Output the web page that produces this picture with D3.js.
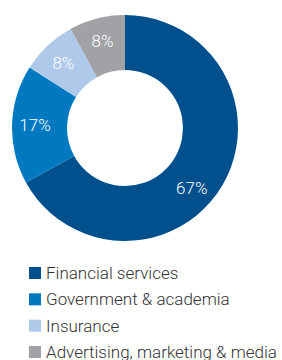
<!DOCTYPE html>
<html>
<head>
<meta charset="utf-8">
<script src="https://cdn.jsdelivr.net/npm/d3@7"></script>
<style>
  html, body { margin: 0; padding: 0; background: #fff; }
  svg { display: block; }
</style>
</head>
<body>
<div id="chart"></div>
<script>
// data
const categories = ['Financial services', 'Government & academia', 'Insurance', 'Advertising, marketing & media'];
const shares = [67, 17, 8, 8];
const colors = ['#00508e', '#0079c1', '#aec9e9', '#a1a2a6'];

const svgWidth = 282;
const svgHeight = 360;
const svg = d3.select('#chart')
  .append('svg')
  .attr('width', svgWidth)
  .attr('height', svgHeight);

// donut
const cx = 125;
const cy = 128;
const outerR = 113;
const innerR = 58;

const graph = svg.append('g')
  .attr('transform', `translate(${cx},${cy})`);

const data = categories.map((c, i) => ({ name: c, value: shares[i] }));

const cScale = d3.scaleOrdinal().domain(categories).range(colors);

const pie = d3.pie()
  .sort(null)
  .value(d => d.value);

const arc = d3.arc()
  .outerRadius(outerR)
  .innerRadius(innerR);
const labelArc = d3.arc()
  .outerRadius(90)
  .innerRadius(90);

const arcs = pie(data);

graph.selectAll('path')
  .data(arcs)
  .enter()
  .append('path')
  .attr('d', arc)
  .attr('fill', d => cScale(d.data.name));

// big slice label sits a bit lower than its centroid in the original
graph.selectAll('text.pct')
  .data(arcs)
  .enter()
  .append('text')
  .attr('class', 'pct')
  .attr('transform', d => {
    const a = d.index === 0 ? { startAngle: d.startAngle + 0.4, endAngle: d.endAngle } : d;
    return `translate(${labelArc.centroid(a)})`;
  })
  .attr('text-anchor', 'middle')
  .attr('dy', '0.36em')
  .attr('fill', '#fff')
  .style('font-family', 'Roboto, "Liberation Sans", sans-serif')
  .style('font-weight', 300)
  .style('font-size', '17px')
  .text(d => d.data.value + '%');

// legend
const legendY = d3.scalePoint()
  .domain(categories)
  .range([273, 352]);

const legend = svg.selectAll('g.legend')
  .data(categories)
  .enter()
  .append('g')
  .attr('class', 'legend')
  .attr('transform', d => `translate(29,${legendY(d)})`);

legend.append('rect')
  .attr('x', 0)
  .attr('y', -6)
  .attr('width', 12)
  .attr('height', 12)
  .attr('fill', d => cScale(d));

legend.append('text')
  .attr('x', 17)
  .attr('y', 0)
  .attr('dy', '0.36em')
  .attr('fill', '#333')
  .style('font-family', 'Roboto, "Liberation Sans", sans-serif')
  .style('font-weight', 300)
  .style('font-size', '17px')
  .text(d => d);
</script>
</body>
</html>
